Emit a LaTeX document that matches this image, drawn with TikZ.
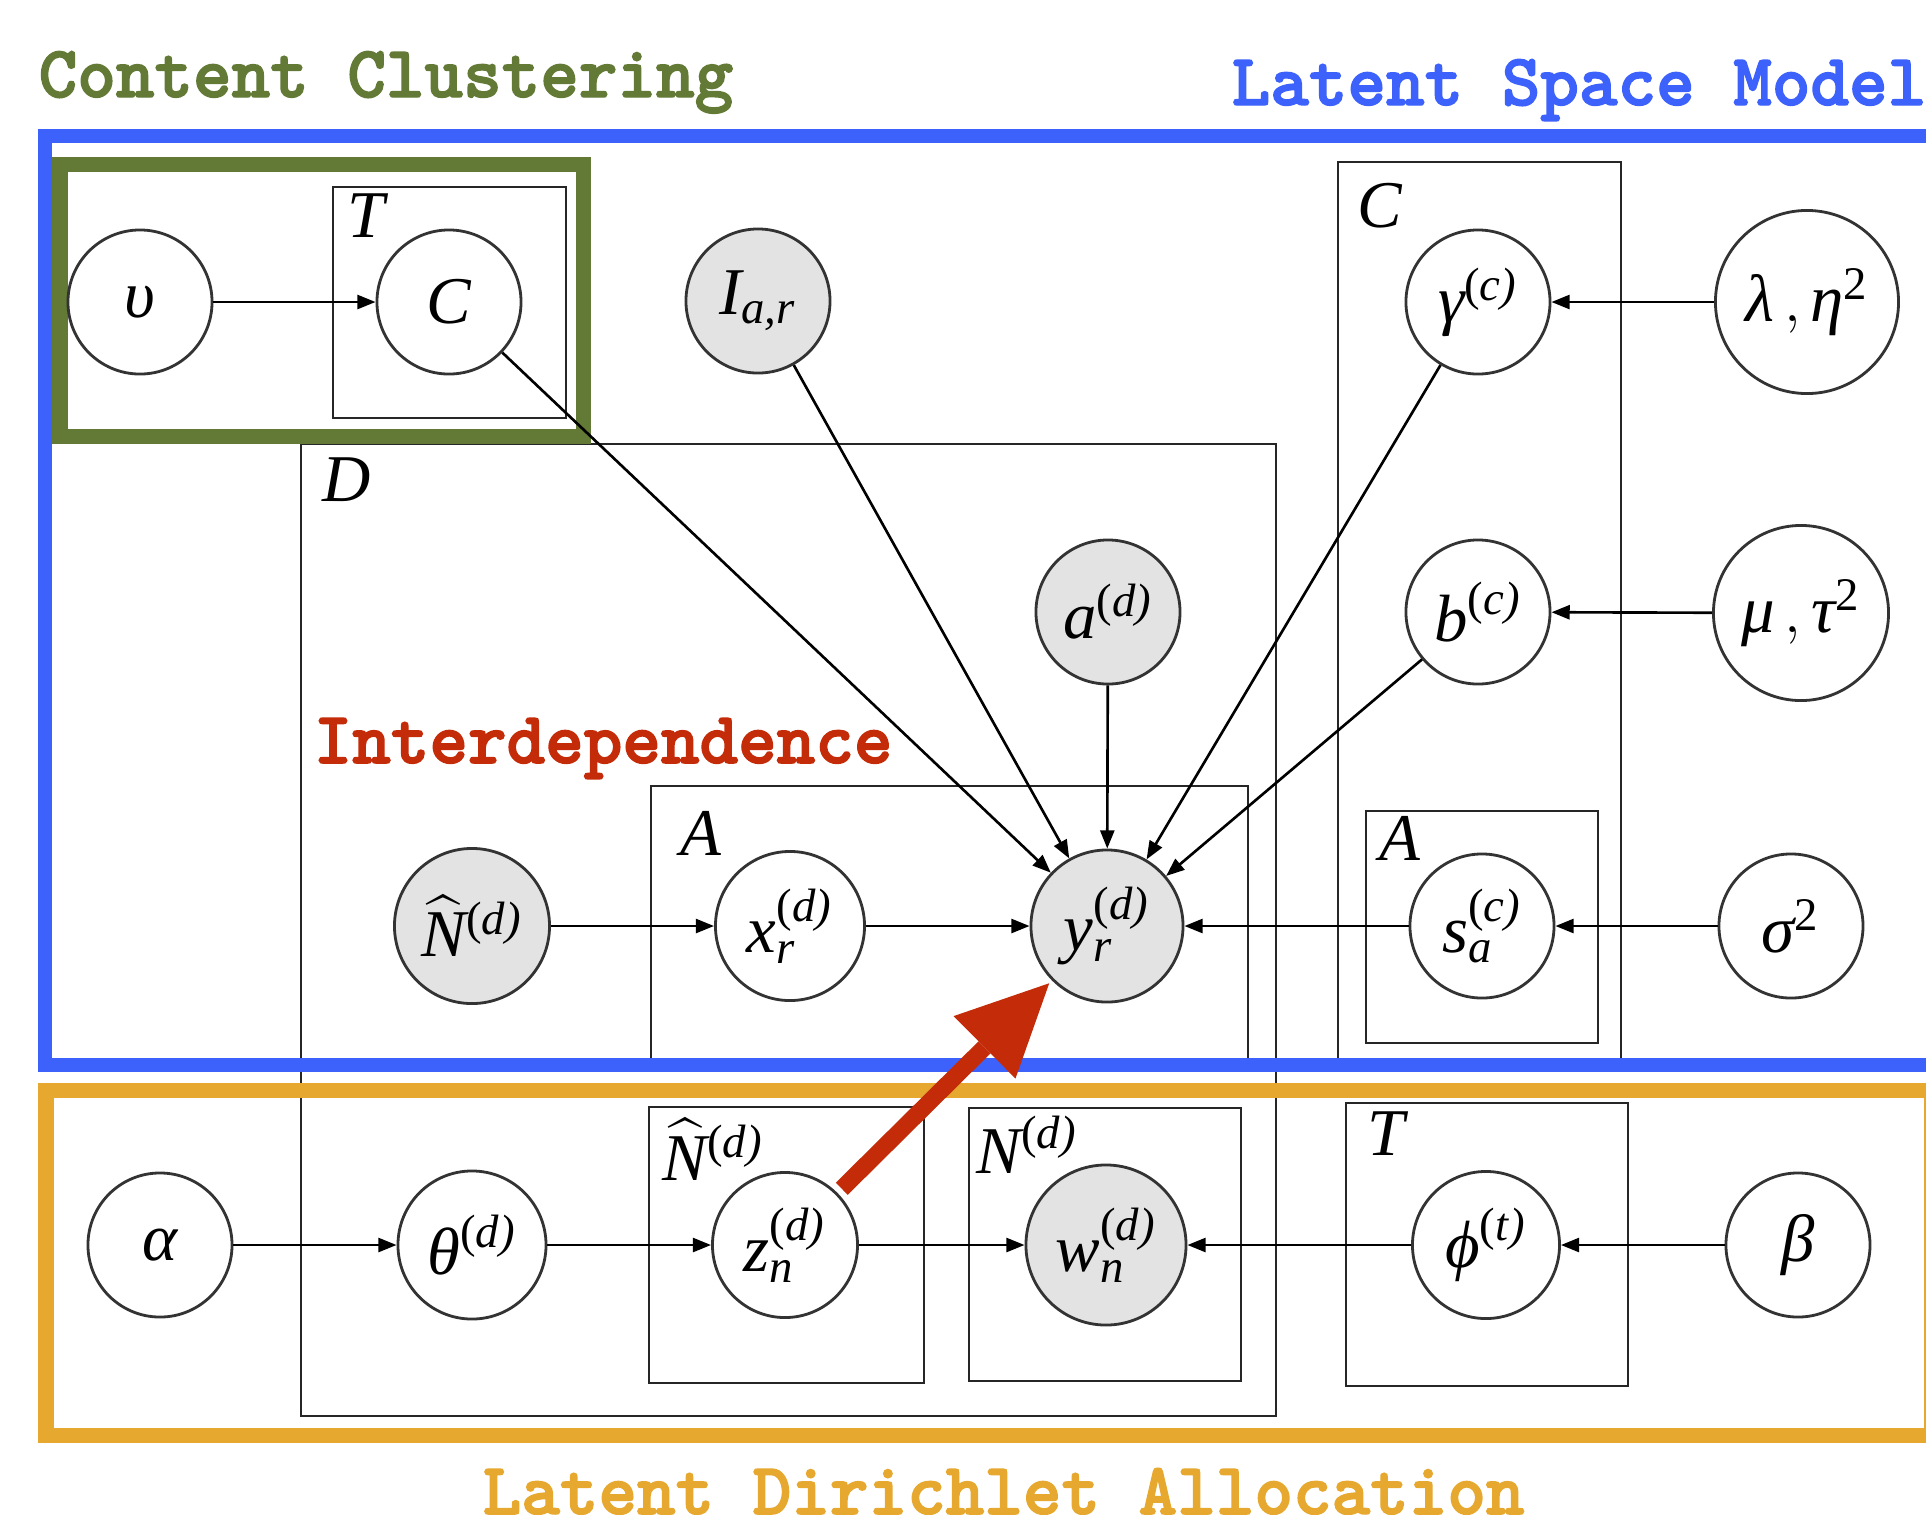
\documentclass[tikz,border=0pt]{standalone}
\usepackage{amsmath}
\usepackage{fontspec}
\setmainfont{Liberation Serif}
\newfontfamily\titlefont{lmmonolt10-bold.otf}[FakeBold=2]
\usetikzlibrary{arrows.meta,backgrounds}

\definecolor{ccgreen}{RGB}{98,122,53}
\definecolor{lsblue}{RGB}{61,98,251}
\definecolor{ldaorange}{RGB}{230,168,46}
\definecolor{intred}{RGB}{196,43,8}
\definecolor{obsgray}{RGB}{227,227,227}
\definecolor{rimgray}{RGB}{51,51,51}

% italic variable letter and an upright-parenthesised index
\newcommand\vv[1]{\text{\itshape #1}}
\newcommand\upar[1]{\text{(\itshape #1\/)}}

\begin{document}
\begin{tikzpicture}[x=0.01cm,y=-0.01cm,
  var/.style={circle,draw=rimgray,line width=0.8pt,fill=white,inner sep=0pt,
              minimum size=1.44cm,font=\fontsize{19}{21}\selectfont},
  obs/.style={var,fill=obsgray},
  plate/.style={draw=black!85,line width=0.45pt},
  platelabel/.style={anchor=base west,inner sep=0pt,font=\fontsize{19}{21}\selectfont},
  edge/.style={draw=black,line width=0.75pt,-{Triangle[length=5.2pt,width=4pt]}},
  title/.style={anchor=base west,inner sep=0pt,
                font=\fontsize{20.9}{24}\selectfont\titlefont},
]
\useasboundingbox (0,0) rectangle (1926,1514);

% ---- random variables ----
\node[var] (ups) at (140,302) {$\vv{υ}$};
\node[var] (Cn) at (449,302) {$\vv{C}$};
\node[obs] (I) at (758,301) {$\vv{I}_{\vv{a,r}}$};
\node[var] (gam) at (1478,302) {$\vv{γ}^{\upar{c}}$};
\node[var,minimum size=1.83cm] (lam) at (1807,302) {$\vv{λ}\,, \vv{η}^{\text{2}}$};

\node[obs] (a) at (1108,612) {$\vv{a}^{\upar{d}}$};
\node[var] (b) at (1478,612) {$\vv{b}^{\upar{c}}$};
\node[var,minimum size=1.75cm] (mu) at (1801,613) {$\vv{μ}\,, \vv{τ}^{\text{2}}$};

\node[obs,minimum size=1.55cm] (Nh) at (472,926) {$\widehat{\vv{N}}{}^{\upar{d}}$};
\node[var,minimum size=1.49cm] (x) at (790,926) {$\vv{x}_{\vv{r}}^{\upar{d}}$};
\node[obs,minimum size=1.52cm] (y) at (1107,926) {$\vv{y}_{\vv{r}}^{\upar{d}}$};
\node[var] (s) at (1482,926) {$\vv{s}_{\vv{a}}^{\upar{c}}$};
\node[var] (sig) at (1791,926) {$\vv{σ}^{\text{2}}$};

\node[var] (alpha) at (160,1245) {$\vv{α}$};
\node[var,minimum size=1.48cm] (theta) at (472,1245) {$\vv{θ}^{\upar{d}}$};
\node[var,minimum size=1.45cm] (z) at (785,1245) {$\vv{z}_{\vv{n}}^{\upar{d}}$};
\node[obs,minimum size=1.6cm] (w) at (1106,1245) {$\vv{w}_{\vv{n}}^{\upar{d}}$};
\node[var,minimum size=1.47cm] (phi) at (1486,1245) {$\vv{ϕ}^{\upar{t}}$};
\node[var] (beta) at (1798,1245) {$\vv{β}$};

% ---- plates and highlighted regions ----
\begin{pgfonlayer}{background}
  \draw[plate] (333,187) rectangle (566,418);
  \draw[plate] (301,444) rectangle (1276,1416);
  \draw[plate] (1338,162) rectangle (1621,1065);
  \draw[plate] (651,786) rectangle (1248,1065);
  \draw[plate] (1366,811) rectangle (1598,1043);
  \draw[plate] (649,1107) rectangle (924,1383);
  \draw[plate] (969,1108) rectangle (1241,1381);
  \draw[plate] (1346,1103) rectangle (1628,1386);

  \draw[ccgreen,line width=4.27pt] (60,164.5) rectangle (583.5,436);
  \draw[lsblue,line width=4.13pt] (45,136) rectangle (1945,1065);
  \draw[ldaorange,line width=4.27pt] (46,1090.5) rectangle (1931,1435.5);
\end{pgfonlayer}

\node[platelabel] (lT1) at (347,237) {$\vv{T}$};
\node[platelabel] (lD) at (322,501) {$\vv{D}$};
\node[platelabel] (lC) at (1357,227) {$\vv{C}$};
\node[platelabel] (lA1) at (680,855) {$\vv{A}$};
\node[platelabel] (lA2) at (1379,860) {$\vv{A}$};
\node[platelabel] (lNh) at (662,1180) {$\widehat{\vv{N}}{}^{\upar{d}}$};
\node[platelabel] (lN) at (976,1173) {$\vv{N}^{\upar{d}}$};
\node[platelabel] (lT2) at (1367,1155) {$\vv{T}$};

% ---- region titles ----
\node[title,text=ccgreen] (tCC) at (38,97) {Content Clustering};
\node[title,text=lsblue] (tLS) at (1231,105) {Latent Space Model};
\node[title,text=intred] (tID) at (313,763) {Interdependence};
\node[title,text=ldaorange] (tLDA) at (482,1514) {Latent Dirichlet Allocation};

% ---- dependencies ----
\draw[edge] (ups) -- (Cn);
\draw[edge] (Cn) -- (y);
\draw[edge] (I) -- (y);
\draw[edge] (a) -- (y);
\draw[edge] (gam) -- (y);
\draw[edge] (b) -- (y);
\draw[edge] (lam) -- (gam);
\draw[edge] (mu) -- (b);
\draw[edge] (sig) -- (s);
\draw[edge] (s) -- (y);
\draw[edge] (Nh) -- (x);
\draw[edge] (x) -- (y);
\draw[edge] (alpha) -- (theta);
\draw[edge] (theta) -- (z);
\draw[edge] (z) -- (w);
\draw[edge] (phi) -- (w);
\draw[edge] (beta) -- (phi);

% ---- topic-to-link interdependence ----
\draw[intred,line width=4.84pt,shorten <=1.7pt,shorten >=1.1pt,
      -{Triangle[length=25.9pt,width=25pt,line width=0pt]}] (z) -- (y);
\end{tikzpicture}
\end{document}
